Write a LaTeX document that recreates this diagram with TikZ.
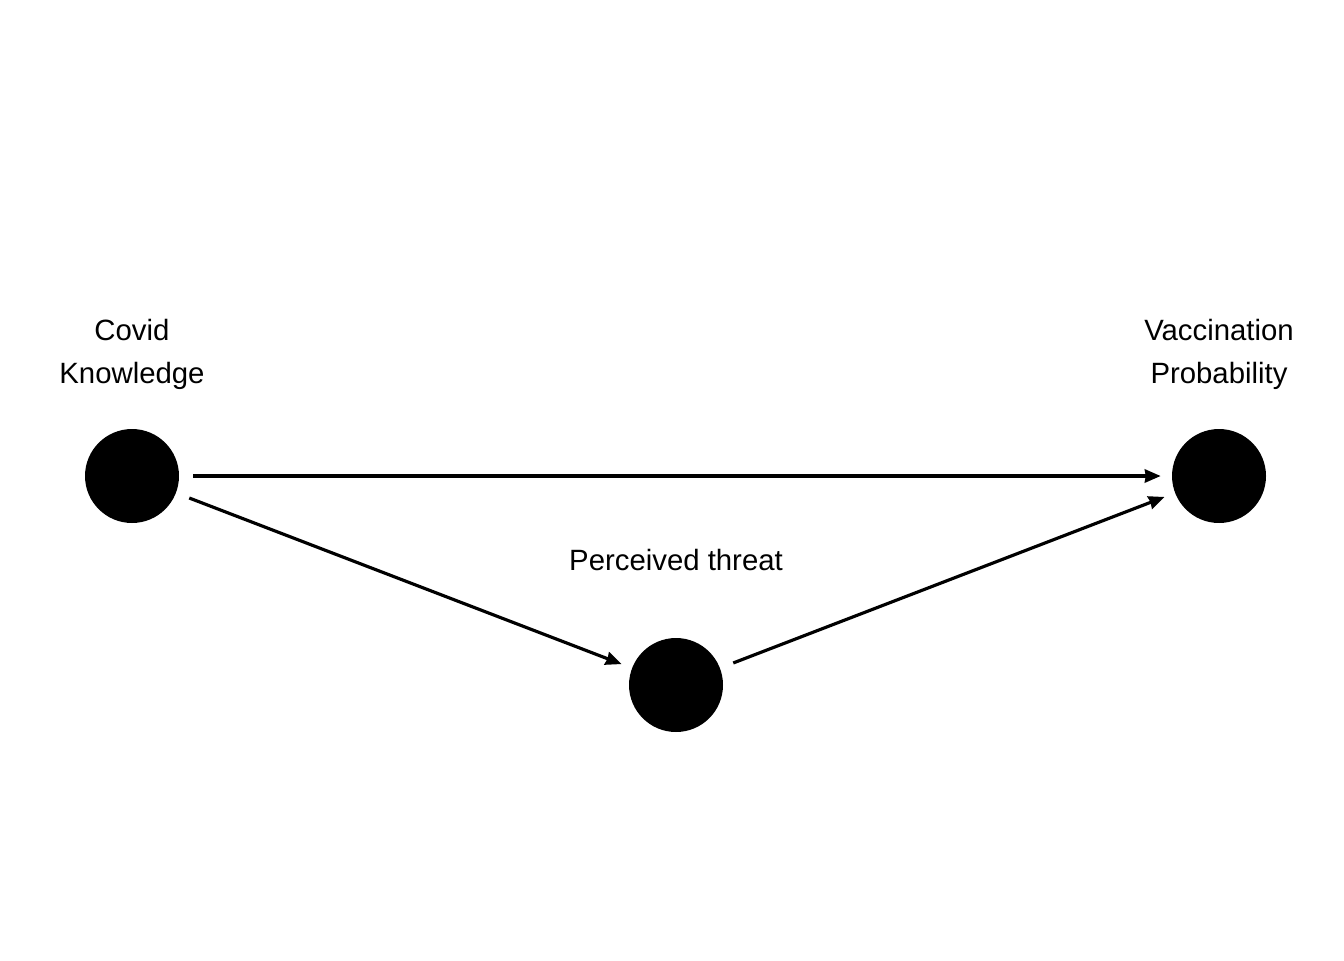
\documentclass[tikz,border=0pt]{standalone}
\usepackage{fontspec}
\setmainfont{Liberation Sans}
\usepackage{tikz}
\usetikzlibrary{arrows.meta,positioning}

\begin{document}
\begin{tikzpicture}[x=0.02cm, y=-0.02cm, >={Stealth[length=9pt,width=7.5pt,inset=0.5pt]},
    font=\fontsize{16.7}{24.4}\selectfont,
    var/.style={circle, fill=black, minimum size=1.88cm, inner sep=0pt},
    lab/.style={align=center, inner sep=0pt},
    path/.style={->, line width=1.8pt, shorten <=0.28cm, shorten >=0.22cm}]
    \useasboundingbox (0,0) rectangle (1344,960);
    % variables
    \node[var] (know) at (132,476) {};
    \node[var] (vacc) at (1219,476) {};
    \node[var] (threat) at (676,685) {};
    % labels
    \node[lab] (knowlab) at (132,354) {Covid\\Knowledge};
    \node[lab] (vacclab) at (1219,354) {Vaccination\\Probability};
    \node[lab] (threatlab) at (676,560) {Perceived threat};
    % paths
    \draw[path] (know) -- (vacc);
    \draw[path] (know) -- (threat);
    \draw[path] (threat) -- (vacc);
\end{tikzpicture}
\end{document}
